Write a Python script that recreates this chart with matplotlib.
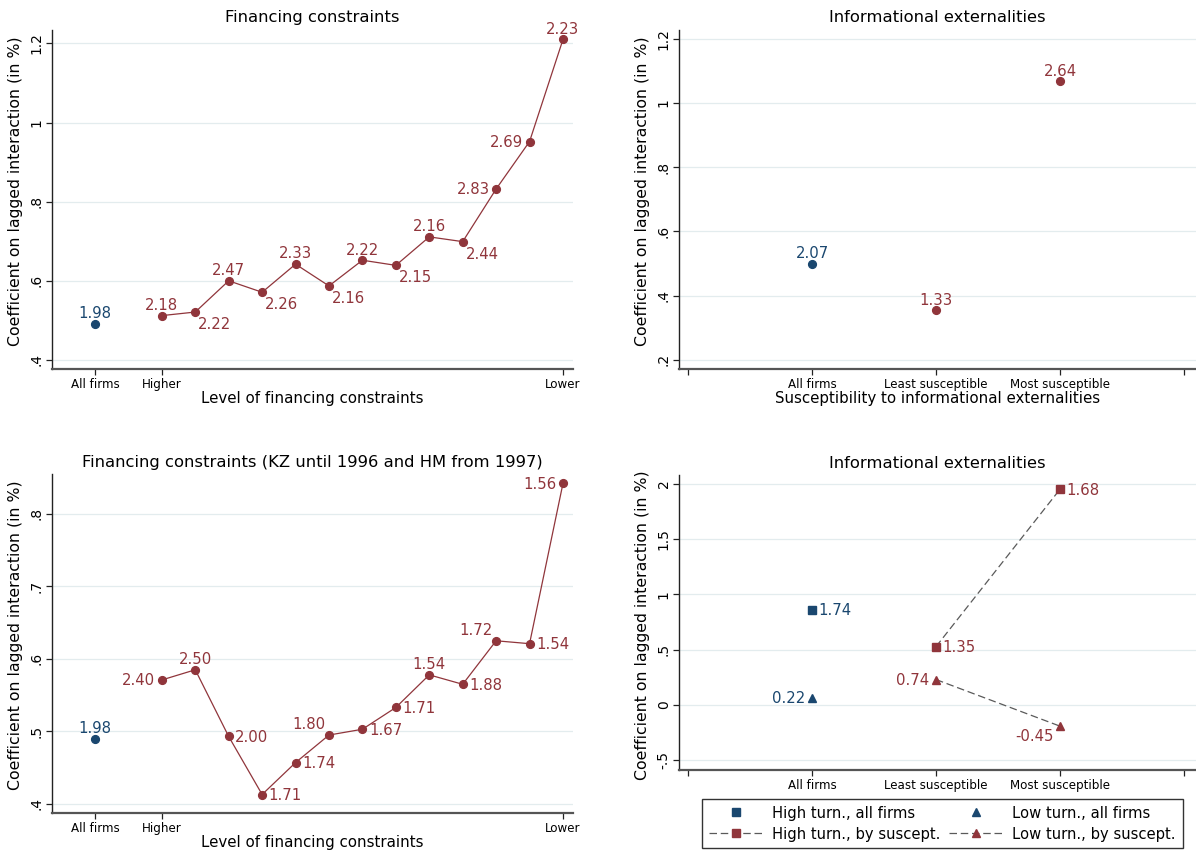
import matplotlib
matplotlib.use("Agg")
import matplotlib.pyplot as plt

# ---------------- data ----------------
# Panel 1: Financing constraints
fc_all_value = 0.491
fc_all_label = "1.98"
fc_values = [0.512, 0.521, 0.600, 0.571, 0.642, 0.587, 0.652, 0.639, 0.711, 0.699, 0.832, 0.952, 1.210]
fc_labels = ["2.18", "2.22", "2.47", "2.26", "2.33", "2.16", "2.22", "2.15", "2.16", "2.44", "2.83", "2.69", "2.23"]
fc_xticklabels = ["All firms", "Higher", "Lower"]
fc_yticks = [0.4, 0.6, 0.8, 1.0, 1.2]
fc_yticklabels = [".4", ".6", ".8", "1", "1.2"]

# Panel 2: Informational externalities
ie_categories = ["All firms", "Least susceptible", "Most susceptible"]
ie_all_value = 0.498
ie_all_label = "2.07"
ie_values = [0.354, 1.068]
ie_labels = ["1.33", "2.64"]
ie_yticks = [0.2, 0.4, 0.6, 0.8, 1.0, 1.2]
ie_yticklabels = [".2", ".4", ".6", ".8", "1", "1.2"]

# Panel 3: Financing constraints (KZ until 1996 and HM from 1997)
kz_all_value = 0.490
kz_all_label = "1.98"
kz_values = [0.571, 0.585, 0.493, 0.413, 0.457, 0.495, 0.503, 0.533, 0.578, 0.565, 0.625, 0.621, 0.842]
kz_labels = ["2.40", "2.50", "2.00", "1.71", "1.74", "1.80", "1.67", "1.71", "1.54", "1.88", "1.72", "1.54", "1.56"]
kz_yticks = [0.4, 0.5, 0.6, 0.7, 0.8]
kz_yticklabels = [".4", ".5", ".6", ".7", ".8"]

# Panel 4: Informational externalities by turnover
high_all_value = 0.861
high_all_label = "1.74"
low_all_value = 0.066
low_all_label = "0.22"
high_by_values = [0.527, 1.952]
high_by_labels = ["1.35", "1.68"]
low_by_values = [0.229, -0.193]
low_by_labels = ["0.74", "-0.45"]
to_yticks = [-0.5, 0, 0.5, 1, 1.5, 2]
to_yticklabels = ["-.5", "0", ".5", "1", "1.5", "2"]
legend_labels = ["High turn., all firms", "High turn., by suscept.",
                 "Low turn., all firms", "Low turn., by suscept."]

# ---------------- style ----------------
BLUE = "#1a476f"
RED = "#90353b"
GRID = "#e3ecee"
DASH = "#5a5a5a"
W, H = 1196, 850

# label clock positions (style, not data)
fc_pos = [12, 4, 12, 4, 12, 4, 12, 4, 12, 4, 9, 9, 12]
kz_pos = [9, 12, 3, 3, 3, 11, 3, 3, 12, 3, 11, 3, 9]

OFFS = {
    12: (0, 4.1, "center"),
    3: (4.7, -3.9, "left"),
    9: (-4.7, -3.9, "right"),
    4: (2.2, -12.2, "left"),
    11: (-2.8, 4.1, "right"),
    7: (-4.2, -10.8, "right"),
}
LFS = 10.7


def lab(ax, x, y, text, pos, color):
    dx, dy, ha = OFFS[pos]
    ax.annotate(text, (x, y), xytext=(dx, dy), textcoords="offset points",
                ha=ha, va="baseline", fontsize=LFS, color=color)


def style(ax, yticks, yticklabels, ylab_y=0.5):
    ax.spines["top"].set_visible(False)
    ax.spines["right"].set_visible(False)
    ax.spines["left"].set_color("#222222")
    ax.spines["left"].set_linewidth(1.0)
    ax.spines["bottom"].set_color("#555555")
    ax.spines["bottom"].set_linewidth(1.6)
    ax.set_yticks(yticks)
    ax.set_yticklabels(yticklabels, rotation=90, va="center", fontsize=9.9)
    ax.tick_params(axis="y", length=4.5, width=0.9, pad=1.5, color="#222222")
    ax.tick_params(axis="x", length=4, width=0.9, pad=2.2, labelsize=8.6, color="#222222")
    ax.yaxis.grid(True, color=GRID, linewidth=0.9)
    ax.set_axisbelow(True)
    ax.set_ylabel("Coefficient on lagged interaction (in %)", fontsize=11.3, labelpad=5)
    ax.yaxis.label.set_y(ylab_y)


def rect(x0, y0, x1, y1):
    return [x0 / W, 1 - y1 / H, (x1 - x0) / W, (y1 - y0) / H]


fig = plt.figure(figsize=(W / 100, H / 100), dpi=100)
fig.patch.set_facecolor("white")

MS = 5.6
TFS = 11.8

# ---- Panel 1 ----
ax1 = fig.add_axes(rect(52, 30, 573, 369))
xs = list(range(2, 2 + len(fc_values)))
ax1.plot([0], [fc_all_value], "o", color=BLUE, ms=MS)
lab(ax1, 0, fc_all_value, fc_all_label, 12, BLUE)
ax1.plot(xs, fc_values, "-o", color=RED, lw=0.9, ms=MS)
for x, y, t, p in zip(xs, fc_values, fc_labels, fc_pos):
    lab(ax1, x, y, t, p, RED)
ax1.set_xlim(-1.286, 14.30)
ax1.set_ylim(0.377, 1.234)
ax1.set_xticks([0, 2, xs[-1]])
ax1.set_xticklabels(fc_xticklabels)
style(ax1, fc_yticks, fc_yticklabels, 0.525)
ax1.set_title("Financing constraints", fontsize=TFS, pad=6)
ax1.set_xlabel("Level of financing constraints", fontsize=10.8, labelpad=0.5)

# ---- Panel 3 ----
ax3 = fig.add_axes(rect(52, 474, 573, 813))
ax3.plot([0], [kz_all_value], "o", color=BLUE, ms=MS)
lab(ax3, 0, kz_all_value, kz_all_label, 12, BLUE)
ax3.plot(xs, kz_values, "-o", color=RED, lw=0.9, ms=MS)
for x, y, t, p in zip(xs, kz_values, kz_labels, kz_pos):
    lab(ax3, x, y, t, p, RED)
ax3.set_xlim(-1.286, 14.30)
ax3.set_ylim(0.3875, 0.855)
ax3.set_xticks([0, 2, xs[-1]])
ax3.set_xticklabels(fc_xticklabels)
style(ax3, kz_yticks, kz_yticklabels, 0.525)
ax3.set_title("Financing constraints (KZ until 1996 and HM from 1997)", fontsize=TFS, pad=5)
ax3.set_xlabel("Level of financing constraints", fontsize=10.8, labelpad=0.5)

# ---- Panel 2 ----
ax2 = fig.add_axes(rect(679, 30, 1196, 369))
ax2.plot([1], [ie_all_value], "o", color=BLUE, ms=MS)
lab(ax2, 1, ie_all_value, ie_all_label, 12, BLUE)
ax2.plot([2, 3], ie_values, "o", color=RED, ms=MS)
for x, y, t in zip([2, 3], ie_values, ie_labels):
    lab(ax2, x, y, t, 12, RED)
ax2.set_xlim(-0.073, 4.097)
ax2.set_ylim(0.171, 1.228)
ax2.set_xticks([0, 1, 2, 3, 4])
ax2.set_xticklabels([""] + ie_categories + [""])
style(ax2, ie_yticks, ie_yticklabels, 0.525)
ax2.set_title("Informational externalities", fontsize=TFS, pad=6)
ax2.set_xlabel("Susceptibility to informational externalities", fontsize=10.8, labelpad=0.5)

# ---- Panel 4 ----
ax4 = fig.add_axes(rect(679, 475, 1196, 770))
h1, = ax4.plot([1], [high_all_value], "s", color=BLUE, ms=5.4, linestyle="none")
lab(ax4, 1, high_all_value, high_all_label, 3, BLUE)
h3, = ax4.plot([1], [low_all_value], "^", color=BLUE, ms=6.0, linestyle="none")
lab(ax4, 1, low_all_value, low_all_label, 9, BLUE)
h2, = ax4.plot([2, 3], high_by_values, color=DASH, lw=0.9, dashes=(6, 3),
               marker="s", ms=5.4, mfc=RED, mec=RED)
for x, y, t, p in zip([2, 3], high_by_values, high_by_labels, [3, 3]):
    lab(ax4, x, y, t, p, RED)
h4, = ax4.plot([2, 3], low_by_values, color=DASH, lw=0.9, dashes=(6, 3),
               marker="^", ms=6.0, mfc=RED, mec=RED)
for x, y, t, p in zip([2, 3], low_by_values, low_by_labels, [9, 7]):
    lab(ax4, x, y, t, p, RED)
ax4.set_xlim(-0.073, 4.097)
ax4.set_ylim(-0.59, 2.081)
ax4.set_xticks([0, 1, 2, 3, 4])
ax4.set_xticklabels([""] + ie_categories + [""])
style(ax4, to_yticks, to_yticklabels, 0.49)
ax4.set_title("Informational externalities", fontsize=TFS, pad=5)

leg = fig.legend([h1, h2, h3, h4], legend_labels, ncol=2, loc="upper left",
                 bbox_to_anchor=(702 / W, 1 - 799 / H), bbox_transform=fig.transFigure,
                 fontsize=10.6, frameon=True, fancybox=False, edgecolor="black",
                 handlelength=3.7, handletextpad=0.6, columnspacing=0.6,
                 borderpad=0.45, labelspacing=0.4, borderaxespad=0, numpoints=1)
leg.get_frame().set_linewidth(1.0)

fig.savefig("out.png", dpi=100, facecolor="white")
